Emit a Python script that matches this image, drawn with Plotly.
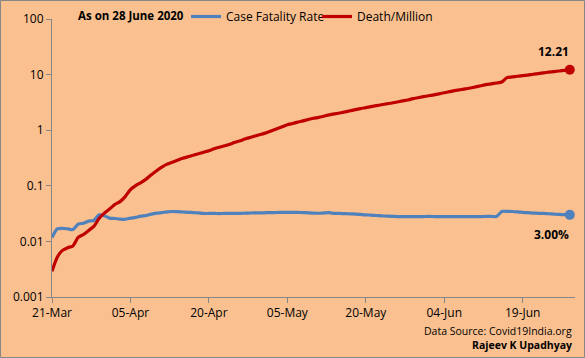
import math
import pandas as pd
import plotly.graph_objects as go

dates = pd.date_range("2020-03-21", "2020-06-28", freq="D")

# Case fatality rate (fraction of confirmed cases)
cfr = [0.0118, 0.0168, 0.0172, 0.0168, 0.0163, 0.0205, 0.0212, 0.0232, 0.0238, 0.0300,
       0.0290, 0.0262, 0.0258, 0.0252, 0.0250, 0.0262, 0.0270, 0.0285, 0.0292, 0.0310,
       0.0322, 0.0330, 0.0340, 0.0345, 0.0342, 0.0338, 0.0333, 0.0330, 0.0325, 0.0318,
       0.0318, 0.0318, 0.0317, 0.0318, 0.0318, 0.0319, 0.0320, 0.0322, 0.0324, 0.0325,
       0.0326, 0.0328, 0.0330, 0.0331, 0.0332, 0.0333, 0.0334, 0.0332, 0.0330, 0.0326,
       0.0322, 0.0321, 0.0325, 0.0328, 0.0320, 0.0318, 0.0316, 0.0313, 0.0310, 0.0305,
       0.0300, 0.0297, 0.0292, 0.0288, 0.0285, 0.0283, 0.0280, 0.0280, 0.0279, 0.0279,
       0.0280, 0.0280, 0.0281, 0.0280, 0.0279, 0.0279, 0.0280, 0.0280, 0.0280, 0.0279,
       0.0279, 0.0280, 0.0280, 0.0281, 0.0282, 0.0280, 0.0345, 0.0347, 0.0345, 0.0340,
       0.0333, 0.0328, 0.0323, 0.0320, 0.0318, 0.0314, 0.0310, 0.0305, 0.0302, 0.0300]

# Deaths per million population
dpm = [0.0029, 0.0052, 0.0069, 0.0077, 0.0083, 0.0118, 0.0133, 0.0157, 0.0186, 0.0257,
       0.0323, 0.0382, 0.046, 0.052, 0.064, 0.0855, 0.101, 0.114, 0.132, 0.158,
       0.187, 0.216, 0.245, 0.266, 0.289, 0.313, 0.333, 0.355, 0.377, 0.402,
       0.428, 0.464, 0.494, 0.525, 0.559, 0.607, 0.646, 0.701, 0.746, 0.794,
       0.845, 0.898, 0.976, 1.06, 1.15, 1.25, 1.32, 1.40, 1.47, 1.56,
       1.64, 1.70, 1.79, 1.89, 1.96, 2.04, 2.13, 2.24, 2.34, 2.45,
       2.55, 2.66, 2.76, 2.87, 2.98, 3.09, 3.22, 3.36, 3.49, 3.69,
       3.84, 4.01, 4.16, 4.32, 4.51, 4.72, 4.93, 5.15, 5.34, 5.54,
       5.74, 6.01, 6.30, 6.59, 6.82, 7.06, 7.35, 8.82, 9.07, 9.34,
       9.61, 9.82, 10.16, 10.39, 10.73, 11.05, 11.34, 11.62, 11.93, 12.21]

ytick_vals = [0.001, 0.01, 0.1, 1, 10, 100]
ytick_text = ["0.001", "0.01", "0.1", "1", "10", "100"]

BG = "#FAC090"
BLUE = "#4F81BD"
RED = "#C00000"
GREY = "#868686"
FONT = "Open Sans"

fig = go.Figure()
fig.add_trace(go.Scatter(x=dates, y=cfr, name="Case Fatality Rate", mode="lines",
                         legend="legend",
                         line=dict(color=BLUE, width=3.2, shape="spline", smoothing=0.6)))
fig.add_trace(go.Scatter(x=dates, y=dpm, name="Death/Million", mode="lines",
                         legend="legend2",
                         line=dict(color=RED, width=3.2, shape="spline", smoothing=0.6)))
# end markers
fig.add_trace(go.Scatter(x=[dates[-1]], y=[cfr[-1]], mode="markers", showlegend=False,
                         cliponaxis=False, marker=dict(color=BLUE, size=10)))
fig.add_trace(go.Scatter(x=[dates[-1]], y=[dpm[-1]], mode="markers", showlegend=False,
                         cliponaxis=False, marker=dict(color=RED, size=10)))

L, R, T, B = 52, 10, 19, 61
W, H = 585, 358
pw, ph = W - L - R, H - T - B

legend_common = dict(orientation="h", xanchor="left", yanchor="top",
                     bgcolor="rgba(0,0,0,0)", font=dict(family=FONT, size=12),
                     itemwidth=30, tracegroupgap=0)

fig.update_layout(
    width=W, height=H,
    margin=dict(l=L, r=R, t=T, b=B, autoexpand=False),
    paper_bgcolor=BG, plot_bgcolor=BG,
    font=dict(family=FONT, size=12, color="#000000"),
    showlegend=True,
    legend=dict(x=(186 - L) / pw, y=1 + (T - 2) / ph, **legend_common),
    legend2=dict(x=(317 - L) / pw, y=1 + (T - 2) / ph, **legend_common),
    xaxis=dict(type="date", range=["2020-03-21", "2020-06-29"],
               tick0="2020-03-21", dtick=15 * 86400000, tickformat="%d-%b",
               showgrid=False, zeroline=False, showline=True, linecolor=GREY, linewidth=1,
               ticks="outside", ticklen=5, tickcolor=GREY, automargin=False,
               tickfont=dict(family=FONT, size=12)),
    yaxis=dict(type="log", range=[-3, 2], tickvals=ytick_vals, ticktext=ytick_text,
               showgrid=False, zeroline=False, showline=True, linecolor=GREY, linewidth=1,
               ticks="outside", ticklen=5, tickcolor=GREY, automargin=False,
               tickfont=dict(family=FONT, size=12)),
)

fig.add_annotation(text="<b>As on 28 June 2020</b>", xref="paper", yref="paper",
                   x=(76 - L) / pw, y=1 + (T - 15) / ph, xanchor="left", yanchor="middle",
                   showarrow=False, font=dict(family=FONT, size=11.5))
fig.add_annotation(text="<b>%.2f</b>" % dpm[-1], x=dates[-1], y=math.log10(dpm[-1]),
                   yshift=18, xshift=-16, showarrow=False, font=dict(family=FONT, size=12))
fig.add_annotation(text="<b>%.2f%%</b>" % (cfr[-1] * 100), x=dates[-1],
                   y=math.log10(cfr[-1]), yshift=-20, xshift=-18, showarrow=False,
                   font=dict(family=FONT, size=12))
fig.add_annotation(text="Data Source: Covid19India.org", xref="paper", yref="paper",
                   x=1 - 1 / pw, y=-(331 - T - ph) / ph, xanchor="right", yanchor="middle",
                   showarrow=False, font=dict(family=FONT, size=10.5))
fig.add_annotation(text="<b>Rajeev K Upadhyay</b>", xref="paper", yref="paper",
                   x=1 - 1 / pw, y=-(345 - T - ph) / ph, xanchor="right", yanchor="middle",
                   showarrow=False, font=dict(family=FONT, size=10.5))

# outer chart border
fig.add_shape(type="rect", xref="paper", yref="paper",
              x0=-(L - 0.5) / pw, x1=1 + (R - 0.5) / pw,
              y0=-(B - 0.5) / ph, y1=1 + (T - 0.5) / ph,
              line=dict(color=GREY, width=1), fillcolor="rgba(0,0,0,0)", layer="below")

fig.write_html("out.html", config={"displayModeBar": False},
               post_script="document.body.style.margin='0';document.body.style.padding='0';")
